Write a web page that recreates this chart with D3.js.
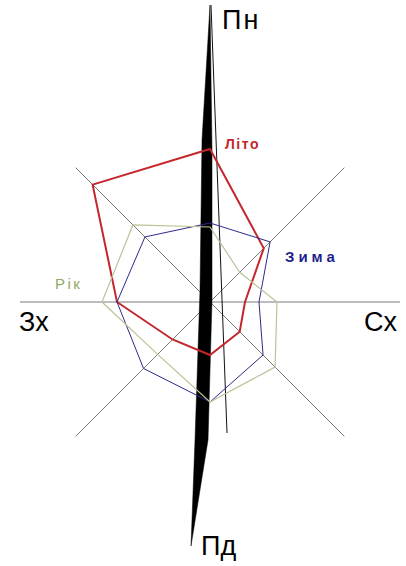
<!DOCTYPE html>
<html>
<head>
<meta charset="UTF-8">
<title>Роза вітрів</title>
<script src="https://d3js.org/d3.v7.min.js"></script>
<style>
body { margin: 0; background: #fff; }
svg { display: block; font-family: "Liberation Sans", Arial, sans-serif; }
</style>
</head>

<body>

<figure class=chart style="margin:0"></figure>

<script type="text/javascript">

/* Data */
var directions = ['Пн', 'ПнСх', 'Сх', 'ПдСх', 'Пд', 'ПдЗх', 'Зх', 'ПнЗх'];
var summer = [15.3, 7.6, 3.5, 4.2, 5.3, 5.3, 9.3, 16.6];	// Літо
var winter = [7.9, 8.5, 4.9, 7.5, 10.0, 9.4, 9.3, 9.2];	// Зима
var year = [7.5, 4.2, 6.7, 9.2, 10.0, 7.4, 10.8, 10.9];	// Рік
var seriesNames = ['Літо', 'Зима', 'Рік'];
var axisMax = 19;

/* Global variables */
var W = 406, H = 566
var cx = 210, cy = 302
var R = 190
var rScale = d3.scaleLinear()
	.domain([0, axisMax])
	.range([0, R])
var angle = d3.scalePoint()
	.domain(directions.concat(['end']))
	.range([0, 2 * Math.PI])
var lineColor = ['#c4262c', '#2b2b8c', '#bcc296']
var lineWidth = [2, 1, 1.2]
var textColor = ['#c4262c', '#1f1f8c', '#8fa864']

/* Functions */

function draw_canvas() {
	var svg = d3.select('figure')
		.append('svg')
		.attr('width', W)
		.attr('height', H)

	svg.append('rect')
		.attr('width', W)
		.attr('height', H)
		.style('fill', '#fff')

	svg.append('g')
		.attr('id', 'rose')
		.attr('transform', 'translate(' + cx + ',' + cy + ')')
}

function draw_axes() {
	// no vertical axis: the needle stands in for it
	var dirs = directions.filter(function(d) { return d != 'Пн' && d != 'Пд'; })
	d3.select('#rose').selectAll('line.axis')
		.data(dirs)
		.enter()
		.append('line')
		.attr('class', 'axis')
		.attr('x1', 0)
		.attr('y1', 0)
		.attr('x2', function(d) { return R * Math.sin(angle(d)); })
		.attr('y2', function(d) { return -R * Math.cos(angle(d)); })
		.style('stroke', '#7a7a7a')
		.style('stroke-width', 1)
}

function draw_needle() {
	var g = d3.select('#rose')
	// long thin black wedge, slightly tilted (offsets from centre, in px)
	var needle = [[0, -297], [2, -152], [2, -2], [-2, 138], [-19, 244],
		[-15, 138], [-10, -12], [-8, -162]]
	g.append('path')
		.attr('d', d3.line()(needle) + 'Z')
		.style('fill', '#000')
		.style('stroke', '#000')
		.style('stroke-width', 0.5)

	g.append('line')
		.attr('x1', 1).attr('y1', -297)
		.attr('x2', 17).attr('y2', 131)
		.style('stroke', '#111')
		.style('stroke-width', 1)
}

function draw_series() {
	var data = [summer, winter, year]
	var radial = d3.lineRadial()
		.angle(function(d, i) { return angle(directions[i]); })
		.radius(function(d) { return rScale(d); })
		.curve(d3.curveLinearClosed)

	d3.select('#rose').selectAll('path.series')
		.data(data)
		.enter()
		.append('path')
		.attr('class', 'series')
		.attr('d', radial)
		.style('fill', 'none')
		.style('stroke', function(d, i) { return lineColor[i]; })
		.style('stroke-width', function(d, i) { return lineWidth[i]; })
		.style('stroke-linejoin', 'miter')
}

function draw_labels() {
	var svg = d3.select('svg')
	var compass = [
		{t: 'Пн', x: 222, y: 29, ls: 2},
		{t: 'Пд', x: 201, y: 555, ls: 0},
		{t: 'Зх', x: 19, y: 331, ls: 0},
		{t: 'Сх', x: 364, y: 331, ls: 0}
	]
	svg.selectAll('text.compass')
		.data(compass)
		.enter()
		.append('text')
		.attr('class', 'compass')
		.attr('x', function(d) { return d.x; })
		.attr('y', function(d) { return d.y; })
		.style('font-size', '27px')
		.style('letter-spacing', function(d) { return d.ls + 'px'; })
		.style('fill', '#000')
		.text(function(d) { return d.t; })

	var pos = [[225, 149, 1.5, 14, 'bold'], [285, 262, 4, 15, 'bold'], [55, 289, 2.5, 15, 'normal']]
	svg.selectAll('text.series')
		.data(seriesNames)
		.enter()
		.append('text')
		.attr('class', 'series')
		.attr('x', function(d, i) { return pos[i][0]; })
		.attr('y', function(d, i) { return pos[i][1]; })
		.style('letter-spacing', function(d, i) { return pos[i][2] + 'px'; })
		.style('font-size', function(d, i) { return pos[i][3] + 'px'; })
		.style('font-weight', function(d, i) { return pos[i][4]; })
		.style('fill', function(d, i) { return textColor[i]; })
		.text(function(d) { return d; })
}

/* Main code */
draw_canvas()
draw_axes()
draw_needle()
draw_series()
draw_labels()

</script>

</body>

</html>
